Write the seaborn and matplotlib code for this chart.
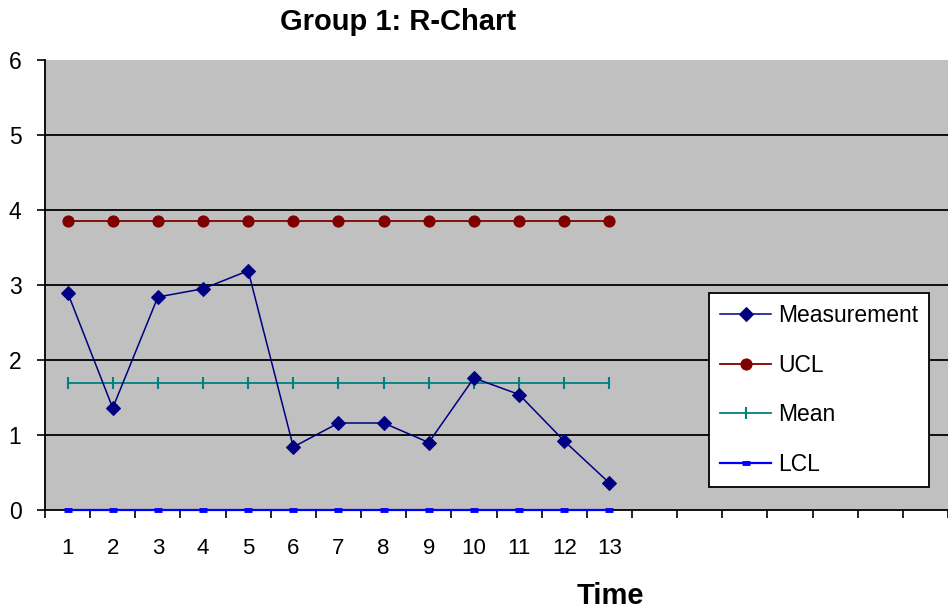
import matplotlib
matplotlib.use("Agg")
import matplotlib.pyplot as plt
import seaborn as sns
import pandas as pd
import numpy as np

# R-chart data for Group 1
time = list(range(1, 14))
measurement = [2.90, 1.36, 2.84, 2.95, 3.19, 0.84, 1.16, 1.16, 0.90, 1.76, 1.54, 0.92, 0.36]
ucl = [3.85] * 13
mean = [1.70] * 13
lcl = [0.0] * 13
n_slots = 20  # category axis is wider than the data
y_ticks = [0, 1, 2, 3, 4, 5, 6]

plt.rcParams["font.family"] = ["Liberation Sans", "DejaVu Sans"]

fig = plt.figure(figsize=(9.48, 6.15), dpi=100)
ax = fig.add_axes([45 / 948, 1 - 510 / 615, 1 - 45 / 948, 450 / 615])
ax.set_facecolor("#C0C0C0")

df = pd.DataFrame({"Time": time, "Measurement": measurement,
                   "UCL": ucl, "Mean": mean, "LCL": lcl})

# horizontal gridlines
for yv in y_ticks[1:-1]:
    ax.axhline(yv, color="black", lw=1.3, zorder=1)

sns.lineplot(data=df, x="Time", y="Measurement", ax=ax, color="#000080",
             marker="D", markersize=7, markeredgecolor="#000080", lw=1.1,
             label="Measurement", zorder=5)
sns.lineplot(data=df, x="Time", y="UCL", ax=ax, color="#800000",
             marker="o", markersize=8, markeredgecolor="#800000", lw=1.3,
             label="UCL", zorder=4)
sns.lineplot(data=df, x="Time", y="Mean", ax=ax, color="#008080",
             marker="|", markersize=8, markeredgewidth=1.5,
             markeredgecolor="#008080", lw=1.3, label="Mean", zorder=4)
sns.lineplot(data=df, x="Time", y="LCL", ax=ax, color="#0000FF",
             marker="_", markersize=6, markeredgewidth=3.5,
             markeredgecolor="#0000FF", lw=1.6, label="LCL", zorder=6,
             clip_on=False)

ax.set_xlim(0.5, n_slots + 0.5)
ax.set_ylim(0, 6)

# category boundaries carry the tick marks, labels sit on the centres
ax.set_xticks(np.arange(0.5, n_slots + 1, 1.0))
ax.set_xticklabels([])
ax.set_xticks(time, minor=True)
ax.set_xticklabels([str(t) for t in time], minor=True)
ax.tick_params(axis="x", which="major", direction="out", length=5.5,
               width=1.2, color="black")
ax.tick_params(axis="x", which="minor", length=0, pad=20, labelsize=16)

ax.set_yticks(y_ticks)
ax.set_yticklabels([str(v) for v in y_ticks])
ax.tick_params(axis="y", direction="out", length=6, width=1.2,
               pad=11, labelsize=16.5, color="black")

for side in ["top", "right"]:
    ax.spines[side].set_visible(False)
for side in ["left", "bottom"]:
    ax.spines[side].set_color("black")
    ax.spines[side].set_linewidth(1.3)

ax.set_xlabel("")
ax.set_ylabel("")

leg = ax.legend(loc="upper left", bbox_to_anchor=(709 / 948, 1 - 293 / 615),
                bbox_transform=fig.transFigure, frameon=True, fancybox=False,
                fontsize=16.5, handlelength=2.2, handletextpad=0.3,
                labelspacing=1.15, borderpad=0.5, borderaxespad=0)
leg.get_frame().set_edgecolor("black")
leg.get_frame().set_linewidth(1.3)
leg.get_frame().set_facecolor("white")
leg.get_frame().set_alpha(1)

fig.text(398 / 948, 1 - 22 / 615, "Group 1: R-Chart", ha="center", va="center",
         fontsize=21, fontweight="bold")
fig.text(610 / 948, 1 - 596 / 615, "Time", ha="center", va="center",
         fontsize=21, fontweight="bold")

fig.savefig("out.png", dpi=100, facecolor="white")
